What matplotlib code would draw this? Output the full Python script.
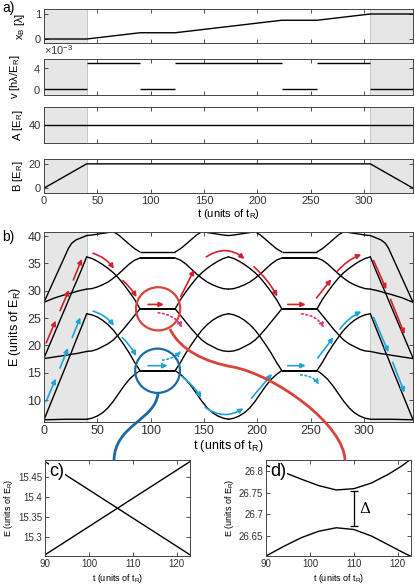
import numpy as np
import matplotlib
matplotlib.use("Agg")
import matplotlib.pyplot as plt
from matplotlib.patches import Ellipse, FancyArrowPatch, PathPatch
from matplotlib.path import Path

plt.rcParams['font.family'] = ['Liberation Sans', 'DejaVu Sans']
plt.rcParams['mathtext.fontset'] = 'custom'
plt.rcParams['mathtext.rm'] = 'Liberation Sans'
plt.rcParams['mathtext.it'] = 'Liberation Sans:italic'

# ---- panel a: protocol ----
t_knots = [0, 40, 90, 123, 223, 256, 306, 346]
xB_vals = [0, 0, 0.25, 0.25, 0.75, 0.75, 1, 1]
v_vals = [0, 5e-3, 0, 5e-3, 0, 5e-3, 0]
A_vals = [40, 40]
B_t = [0, 40, 306, 346]
B_vals = [0, 20, 20, 0]

# ---- panel b: energy levels ----
# B ramp (t = 0..40)
ramp_t = [0, 10, 20, 23, 26, 30, 35, 40]
ramp_top = [27.9, 32.2, 36.5, 37.8, 38.7, 39.3, 39.7, 40.1]
ramp_slow28 = [27.9, 28.7, 29.3, 29.45, 29.6, 29.85, 30.1, 30.3]
ramp_steep18 = [17.7, 22.3, 26.9, 28.3, 29.7, 31.5, 33.8, 36.2]
ramp_slow18 = [17.6, 17.9, 18.2, 18.3, 18.4, 18.5, 18.7, 18.9]
ramp_steep6 = [6.4, 11.2, 16.0, 17.5, 18.9, 20.9, 23.3, 25.8]
ramp_slow6 = [6.4, 6.45, 6.5, 6.5, 6.5, 6.5, 6.5, 6.5]

# barrier moving (t = 40..90)
prof_t = [40, 45, 50, 55, 60, 65, 70, 75, 80, 85, 90]
prof_top = [40.1, 40.2, 40.35, 40.5, 40.65, 40.8, 40.2, 39.35, 38.5, 37.7, 37.1]
prof_A = [36.2, 35.9, 35.4, 34.8, 34.1, 33.3, 32.3, 31.1, 29.8, 28.4, 26.7]
prof_B = [30.3, 30.4, 30.7, 31.1, 31.6, 32.3, 33.1, 34.0, 34.9, 35.6, 36.0]
prof_C = [25.8, 25.6, 25.2, 24.6, 23.8, 22.8, 21.5, 20.1, 18.6, 16.9, 15.4]
prof_D = [18.9, 19.0, 19.3, 19.8, 20.3, 21.0, 22.0, 23.1, 24.3, 25.5, 26.7]
prof_E = [6.5, 6.7, 7.1, 7.7, 8.6, 9.8, 11.2, 12.6, 13.8, 14.7, 15.4]

# barrier at rest
flat_levels = [37.1, 36.0, 26.7, 15.4]
rest_start = [90, 223]
rest_end = [123, 256]

# ---- panels c, d: zoom on the stationary part ----
c_t = [90, 123]
c_up = [15.255, 15.49]
c_down = [15.49, 15.255]
d_t = [90, 94, 98, 102, 106, 110, 114, 118, 121, 123]
d_upper = [26.813, 26.797, 26.781, 26.766, 26.756, 26.759, 26.772, 26.793, 26.812, 26.827]
d_lower = [26.604, 26.626, 26.646, 26.661, 26.669, 26.665, 26.650, 26.629, 26.613, 26.603]

RED = '#d3202e'
RED_DOT = '#e2306a'
BLUE = '#1da4d6'
# (t0, E0, t1, E1, rad, colour, linestyle)
arrows = [
    (1, 20.0, 12, 25.0, 0, RED, '-'), (14, 25.9, 24.5, 30.6, 0, RED, '-'),
    (26.5, 31.5, 36.5, 36.3, 0, RED, '-'),
    (43.5, 37.0, 67, 33.6, -0.2, RED, '-'), (72, 32.2, 88, 28.4, -0.1, RED, '-'),
    (95, 27.5, 115, 27.5, 0, RED, '-'), (104.5, 26.0, 131, 22.8, -0.3, RED_DOT, ':'),
    (127, 28.5, 142, 34.3, 0, RED, '-'), (150, 35.9, 190, 35.5, -0.41, RED, '-'),
    (195, 34.7, 220, 28.5, -0.1, RED, '-'), (226, 27.5, 248, 27.5, 0, RED, '-'),
    (239, 25.8, 264, 22.8, -0.3, RED_DOT, ':'), (254, 28.3, 271, 32.5, 0, RED, '-'),
    (273, 33.1, 300, 36.8, -0.15, RED, '-'),
    (308, 36.0, 322, 29.8, 0, RED, '-'), (324, 28.9, 339, 21.6, 0, RED, '-'),
    (1, 9.3, 12, 14.4, 0, BLUE, '-'), (14, 15.4, 23.5, 20.0, 0, BLUE, '-'),
    (25.5, 21.0, 35, 25.6, 0, BLUE, '-'),
    (43.5, 26.4, 67, 23.2, -0.2, BLUE, '-'), (71.5, 21.8, 87.5, 17.6, -0.1, BLUE, '-'),
    (95, 16.3, 118.5, 16.3, 0, BLUE, '-'), (108.5, 17.3, 130, 19.4, 0.25, BLUE, ':'),
    (127.5, 14.6, 149, 10.0, -0.1, BLUE, '-'), (149, 9.0, 189, 8.8, 0.38, BLUE, '-'),
    (193, 10.0, 215.5, 15.2, 0, BLUE, '-'), (226, 16.3, 248, 16.3, 0, BLUE, '-'),
    (238, 14.6, 259.5, 12.4, -0.3, BLUE, ':'), (255, 17.3, 273, 21.9, 0, BLUE, '-'),
    (276, 22.6, 300, 26.4, -0.15, BLUE, '-'),
    (308, 25.6, 324, 18.3, 0, BLUE, '-'), (326, 17.4, 339, 10.9, 0, BLUE, '-'),
]

W, H = 415, 587
fig = plt.figure(figsize=(W / 100, H / 100), dpi=100)


def rect(l, t, r, b):
    return [l / W, 1 - b / H, (r - l) / W, (b - t) / H]


def style(ax, size=8):
    ax.tick_params(direction='in', top=True, right=True, length=3, width=0.6,
                   labelsize=size, colors='#333333', pad=2)
    for s in ax.spines.values():
        s.set_color('#444444')
        s.set_linewidth(0.7)


def shade(ax):
    ax.axvspan(0, 40, color='#e6e6e6', lw=0, zorder=0)
    ax.axvspan(306, 346, color='#e6e6e6', lw=0, zorder=0)
    for x in (40, 306):
        ax.axvline(x, color='#c6c6c6', lw=0.7, zorder=0.5)


ax1 = fig.add_axes(rect(44, 9, 413, 43))
ax2 = fig.add_axes(rect(44, 59, 413, 95))
ax3 = fig.add_axes(rect(44, 107, 413, 143))
ax4 = fig.add_axes(rect(44, 159, 413, 193))
axb = fig.add_axes(rect(44, 232, 413, 422))
axc = fig.add_axes(rect(45, 460, 190, 556))
axd = fig.add_axes(rect(266, 460, 411, 556))

ax1.plot(t_knots, xB_vals, color='k', lw=1)
ax2.hlines(v_vals, t_knots[:-1], t_knots[1:], colors='k', lw=1)
ax3.plot([0, 346], A_vals, color='k', lw=1)
ax4.plot(B_t, B_vals, color='k', lw=1)

for ax in (ax1, ax2, ax3, ax4):
    shade(ax)
    style(ax)
    ax.set_xlim(0, 346)
    ax.set_xticks(range(0, 301, 50))
    if ax is not ax4:
        ax.set_xticklabels([])
ax1.set_ylim(-0.16, 1.2)
ax1.set_yticks([0, 1])
ax2.set_ylim(-1.1e-3, 5.7e-3)
ax2.set_yticks([0, 4e-3])
ax2.ticklabel_format(axis='y', style='sci', scilimits=(0, 0), useMathText=True)
ax2.yaxis.get_offset_text().set_fontsize(8)
ax2.yaxis.get_offset_text().set_color('#333333')
ax3.set_ylim(27, 53)
ax3.set_yticks([40])
ax4.set_ylim(-4, 24)
ax4.set_yticks([0, 20])
ax1.set_ylabel('x$_\\mathrm{B}$ [λ]', fontsize=8, labelpad=6)
ax2.set_ylabel('v [hλ/E$_\\mathrm{R}$]', fontsize=8, labelpad=8)
ax3.set_ylabel('A [E$_\\mathrm{R}$]', fontsize=8, labelpad=3)
ax4.set_ylabel('B [E$_\\mathrm{R}$]', fontsize=8, labelpad=3)
ax4.set_xlabel('t (units of t$_\\mathrm{R}$)', fontsize=8, labelpad=1)
fig.text(2 / W, 1 - 12 / H, 'a)', fontsize=10)

# panel b
shade(axb)
lk = dict(color='k', lw=1.0, solid_capstyle='round')
ramp_t = np.array(ramp_t)
prof_t = np.array(prof_t)
for curve in (ramp_top, ramp_slow28, ramp_steep18, ramp_slow18, ramp_steep6, ramp_slow6):
    axb.plot(ramp_t, curve, **lk)
    axb.plot(346 - ramp_t, curve, **lk)
for curve in (prof_top, prof_A, prof_B, prof_C, prof_D, prof_E):
    axb.plot(prof_t, curve, **lk)
    axb.plot(213 - prof_t, curve, **lk)
    axb.plot(prof_t + 133, curve, **lk)
    axb.plot(346 - prof_t, curve, **lk)
for lev in flat_levels:
    axb.hlines([lev, lev], rest_start, rest_end, colors='k', lw=1.4 if lev < 37 else 1.0)

for t0, e0, t1, e1, rad, col, ls in arrows:
    axb.add_patch(FancyArrowPatch((t0, e0), (t1, e1), arrowstyle='-|>', mutation_scale=7,
                                  lw=1.2, color=col, linestyle=ls,
                                  connectionstyle=f'arc3,rad={rad}', zorder=3))

axb.add_patch(Ellipse((107, 26.7), 41.5, 7.9, fill=False, ec='#d8443c', lw=1.6, zorder=4))
axb.add_patch(Ellipse((106.5, 15.37), 42, 8.1, fill=False, ec='#1b6aa5', lw=1.6, zorder=4))

axb.set_xlim(0, 346)
axb.set_ylim(6.0, 40.75)
axb.set_xticks(range(0, 301, 50))
axb.set_yticks(range(10, 41, 5))
style(axb, 9)
axb.set_xlabel('t (units of t$_\\mathrm{R}$)', fontsize=9, labelpad=1)
axb.set_ylabel('E (units of E$_\\mathrm{R}$)', fontsize=9, labelpad=3)
fig.text(2 / W, 1 - 241 / H, 'b)', fontsize=10)

# panels c, d
axc.plot(c_t, c_up, color='k', lw=1.0)
axc.plot(c_t, c_down, color='k', lw=1.0)
axc.set_xlim(90, 123)
axc.set_ylim(15.252, 15.494)
axc.set_yticks([15.3, 15.35, 15.4, 15.45])
axc.set_yticklabels(['15.3', '15.35', '15.4', '15.45'])
axd.plot(d_t, d_upper, color='k', lw=1.0)
axd.plot(d_t, d_lower, color='k', lw=1.0)
axd.set_xlim(90, 123)
axd.set_ylim(26.604, 26.825)
axd.set_yticks([26.65, 26.7, 26.75, 26.8])
axd.set_yticklabels(['26.65', '26.7', '26.75', '26.8'])
axd.errorbar([110], [26.7125], yerr=[0.0405], color='k', lw=0.9, capsize=3, capthick=0.9)
axd.text(111.2, 26.712, 'Δ', fontsize=11, family=['DejaVu Serif'], va='center')
for ax, lab in ((axc, 'c)'), (axd, 'd)')):
    style(ax, 7)
    ax.set_xticks([90, 100, 110, 120])
    ax.set_xlabel('t (units of t$_\\mathrm{R}$)', fontsize=6.5, labelpad=2)
    ax.set_ylabel('E (units of E$_\\mathrm{R}$)', fontsize=6.5, labelpad=2)
    ax.text(0.03, 0.97, lab, transform=ax.transAxes, fontsize=13, va='top', ha='left',
            bbox=dict(fc='white', ec='none', pad=0.5), zorder=5)

# connectors from circles to zoom panels (figure pixel coords)
def fig_path(pts):
    return Path([(x / W, 1 - y / H) for x, y in pts], [Path.MOVETO] + [Path.CURVE4] * (len(pts) - 1))

red_pts = [(170, 329), (180, 350), (205, 362), (233, 367), (275, 375), (345, 425), (345, 461)]
blue_pts = [(158, 393), (156, 420), (114, 425), (114, 461)]
fig.add_artist(PathPatch(fig_path(red_pts), fill=False, ec='#d8443c', lw=2.0,
                         transform=fig.transFigure, zorder=6))
fig.add_artist(PathPatch(fig_path(blue_pts), fill=False, ec='#1b6aa5', lw=2.0,
                         transform=fig.transFigure, zorder=6))

fig.savefig('out.png', dpi=100)
